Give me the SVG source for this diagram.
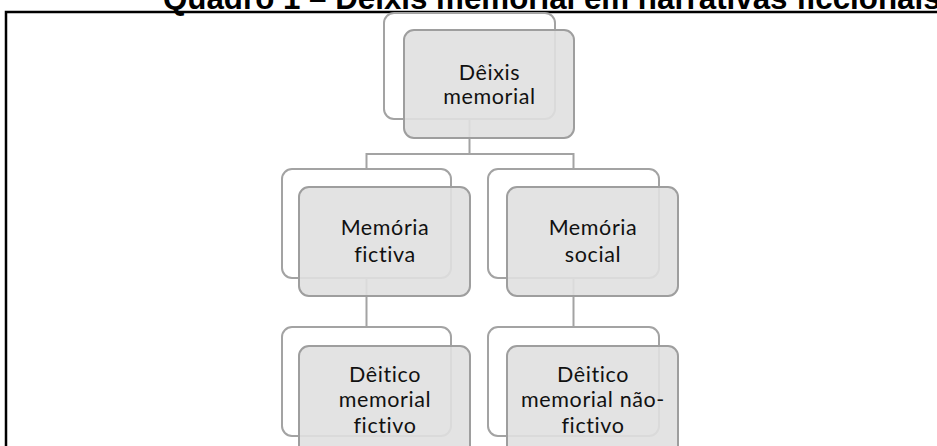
<svg xmlns="http://www.w3.org/2000/svg" width="937" height="446" viewBox="0 0 937 446">
<style>
.back{fill:#ffffff;stroke:#a3a3a3;stroke-width:2}
.front{fill:#e0e0e0;fill-opacity:0.9;stroke:#9e9e9e;stroke-width:2}
.lbl{font-family:Lato,"Open Sans",sans-serif;font-size:21.5px;letter-spacing:0.6px;fill:#111111;text-anchor:middle;font-variant-ligatures:none}
.conn{fill:none;stroke:#a3a3a3;stroke-width:2}
.title{font-family:"Liberation Sans",Arial,sans-serif;font-weight:bold;font-size:31.3px;fill:#000}
</style>
<rect x="0" y="0" width="937" height="446" fill="#ffffff"/>
<text class="title" x="163" y="9">Quadro 1 – Dêixis memorial em narrativas ficcionais</text>
<path d="M6,446 V12 H937" fill="none" stroke="#000" stroke-width="2.5"/>
<g id="connectors">
<path class="conn" d="M469.5,119 V154 M366.5,169 V154 H573.5 V169"/>
<path class="conn" d="M366.5,278 V327"/>
<path class="conn" d="M573.5,278 V327"/>
</g>
<g id="n-deixis">
<rect class="back" x="384" y="13" width="171" height="106" rx="10"/>
<rect class="front" x="404" y="30" width="170" height="108" rx="10"/>
<text class="lbl" x="489.5" y="80">Dêixis</text>
<text class="lbl" x="489.5" y="104">memorial</text>
</g>
<g id="n-mem-fictiva">
<rect class="back" x="282" y="169" width="169" height="109" rx="10"/>
<rect class="front" x="299" y="187" width="171" height="109" rx="10"/>
<text class="lbl" x="385" y="235">Memória</text>
<text class="lbl" x="385" y="262">fictiva</text>
</g>
<g id="n-mem-social">
<rect class="back" x="488" y="169" width="171" height="109" rx="10"/>
<rect class="front" x="507" y="187" width="171" height="109" rx="10"/>
<text class="lbl" x="593" y="235">Memória</text>
<text class="lbl" x="593" y="262">social</text>
</g>
<g id="n-deitico-fictivo">
<rect class="back" x="282" y="327" width="169" height="109" rx="10"/>
<rect class="front" x="299" y="346" width="171" height="109" rx="10"/>
<text class="lbl" x="385" y="382">Dêitico</text>
<text class="lbl" x="385" y="407">memorial</text>
<text class="lbl" x="385" y="433">fictivo</text>
</g>
<g id="n-deitico-nao-fictivo">
<rect class="back" x="488" y="327" width="171" height="109" rx="10"/>
<rect class="front" x="507" y="346" width="171" height="109" rx="10"/>
<text class="lbl" x="593" y="382">Dêitico</text>
<text class="lbl" x="593" y="407">memorial não-</text>
<text class="lbl" x="593" y="433">fictivo</text>
</g>
</svg>
